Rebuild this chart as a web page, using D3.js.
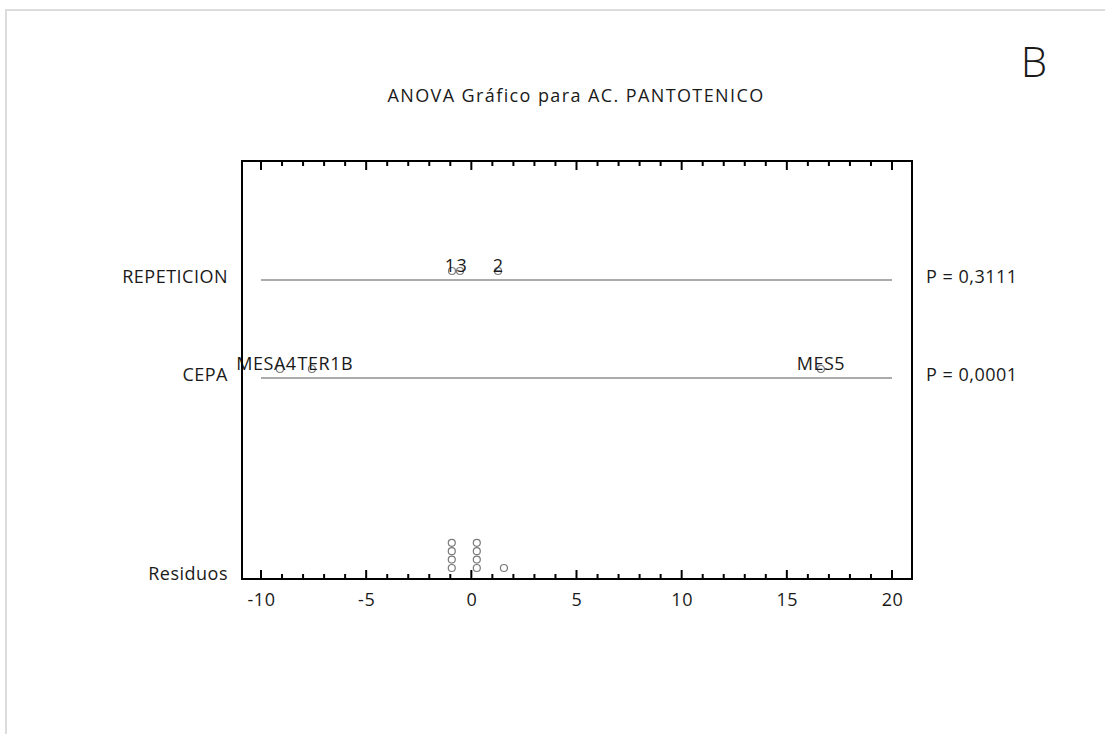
<!DOCTYPE html>
<html>
<head>
<meta charset="utf-8">
<script src="https://cdn.jsdelivr.net/npm/d3@7"></script>
<style>
  html, body { margin: 0; padding: 0; background: #fff; }
  svg { display: block; }
  text { font-family: "Open Sans", "DejaVu Sans", sans-serif; fill: #1a1a1a; }
</style>
</head>
<body>
<svg id="chart" width="1105" height="734"></svg>
<script>
// ---- data ----
const titleText = "ANOVA Gráfico para AC. PANTOTENICO";
const panelLetter = "B";
const rowLabels = ["REPETICION", "CEPA", "Residuos"];
const pLabels = ["P = 0,3111", "P = 0,0001"];
const repLevels = ["1", "3", "2"];
const repEffects = [-0.92, -0.54, 1.27];
const cepaLevels = ["MESA4", "TER1B", "MES5"];
const cepaEffects = [-9.10, -7.58, 16.62];
const residuals = [-0.93, -0.93, -0.93, -0.93, 0.26, 0.26, 0.26, 0.26, 1.55];
const xTickValues = [-10, -5, 0, 5, 10, 15, 20];
const xDomain = [-10, 20];

// ---- layout ----
const svg = d3.select("#chart");
const frame = { left: 242, right: 912, top: 161, bottom: 579 };
const x = d3.scaleLinear().domain(xDomain).range([261, 892]);
const rowY = { REPETICION: 280, CEPA: 378 };
const FONT = 18;
const LS = "0.5px";

function styled(sel) {
  return sel.style("font-size", FONT + "px").style("letter-spacing", LS);
}

// outer light frame
svg.append("rect")
  .attr("x", 6).attr("y", 10).attr("width", 1120).attr("height", 740)
  .attr("fill", "none").attr("stroke", "#dcdcdc").attr("stroke-width", 2);

// title
svg.append("text")
  .attr("x", 576).attr("y", 102)
  .attr("text-anchor", "middle")
  .style("font-size", FONT + "px").style("letter-spacing", "1.4px")
  .text(titleText);

svg.append("text")
  .attr("x", 1034).attr("y", 77)
  .attr("text-anchor", "middle")
  .style("font-size", "42px").style("font-weight", 300)
  .text(panelLetter);

// effect rows
const rows = [
  { name: rowLabels[0], levels: repLevels, effects: repEffects, p: pLabels[0] },
  { name: rowLabels[1], levels: cepaLevels, effects: cepaEffects, p: pLabels[1] }
];

rows.forEach(r => {
  const yy = rowY[r.name];
  svg.append("line")
    .attr("x1", x(xDomain[0])).attr("x2", x(xDomain[1]))
    .attr("y1", yy).attr("y2", yy)
    .attr("stroke", "#8f8f8f").attr("stroke-width", 1.6);
  const g = svg.append("g");
  r.effects.forEach(v => {
    g.append("circle")
      .attr("cx", x(v)).attr("cy", yy - 9).attr("r", 3.5)
      .attr("fill", "#fff").attr("stroke", "#7a7a7a").attr("stroke-width", 1.2);
  });
  // labels, centered on their points, then pushed apart where they collide
  const labs = r.effects.map((v, i) => {
    const t = styled(g.append("text")
      .attr("y", yy - 8)
      .attr("text-anchor", "start"))
      .text(r.levels[i]);
    const w = t.node().getComputedTextLength();
    return { t, w, left: x(v) - w / 2 };
  }).sort((a, b) => a.left - b.left);
  for (let i = 1; i < labs.length; i++) {
    const a = labs[i - 1], b = labs[i];
    const overlap = (a.left + a.w + 1) - b.left;
    if (overlap > 0) { a.left -= overlap / 2; b.left += overlap / 2; }
  }
  labs.forEach(l => l.t.attr("x", l.left));

  styled(svg.append("text")
    .attr("x", 228).attr("y", yy + 3)
    .attr("text-anchor", "end"))
    .text(r.name);
  styled(svg.append("text")
    .attr("x", 926).attr("y", yy + 3)
    .attr("text-anchor", "start"))
    .text(r.p);
});

// residual dot plot (stacked)
const counts = new Map();
residuals.forEach(v => {
  const k = counts.get(v) || 0;
  counts.set(v, k + 1);
  svg.append("circle")
    .attr("cx", x(v)).attr("cy", 568 - k * 8.4).attr("r", 3.5)
    .attr("fill", "#fff").attr("stroke", "#7a7a7a").attr("stroke-width", 1.2);
});
styled(svg.append("text")
  .attr("x", 228).attr("y", 580)
  .attr("text-anchor", "end"))
  .text(rowLabels[2]);

// frame
svg.append("rect")
  .attr("x", frame.left).attr("y", frame.top)
  .attr("width", frame.right - frame.left).attr("height", frame.bottom - frame.top)
  .attr("fill", "none").attr("stroke", "#000").attr("stroke-width", 2);

// ticks
const minorTicks = d3.range(xDomain[0], xDomain[1] + 1, 1);
const tg = svg.append("g");
minorTicks.forEach(t => {
  const len = (t % 5 === 0) ? 9 : 5;
  tg.append("line").attr("x1", x(t)).attr("x2", x(t))
    .attr("y1", frame.top).attr("y2", frame.top + len)
    .attr("stroke", "#000").attr("stroke-width", 2);
  tg.append("line").attr("x1", x(t)).attr("x2", x(t))
    .attr("y1", frame.bottom).attr("y2", frame.bottom - len)
    .attr("stroke", "#000").attr("stroke-width", 2);
});

// bottom tick labels through d3 axis
const axis = d3.axisBottom(x).tickValues(xTickValues).tickSize(0).tickPadding(14)
  .tickFormat(d => String(d));
const ag = svg.append("g").attr("transform", `translate(0,${frame.bottom})`).call(axis);
ag.select(".domain").remove();
ag.selectAll("text").style("font-size", FONT + "px").style("letter-spacing", LS)
  .style("font-family", '"Open Sans", "DejaVu Sans", sans-serif').attr("fill", "#1a1a1a");
</script>
</body>
</html>
